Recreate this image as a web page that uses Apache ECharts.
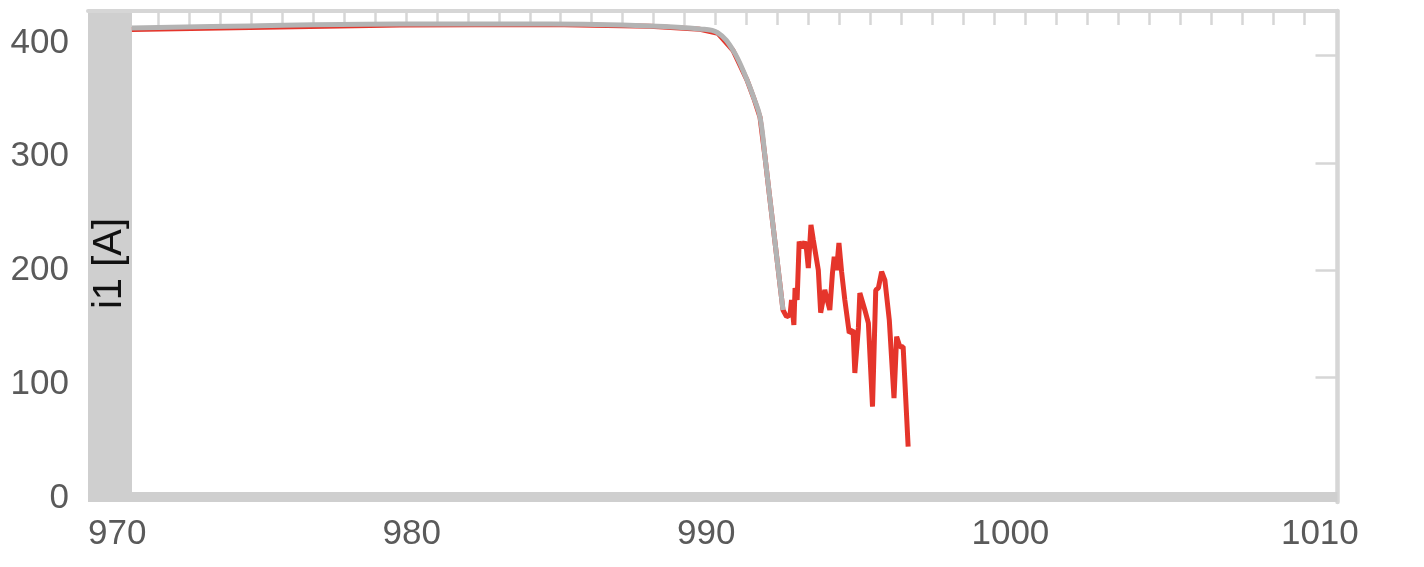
<!DOCTYPE html>
<html>
<head>
<meta charset="utf-8">
<script src="https://cdn.jsdelivr.net/npm/echarts@6/dist/echarts.min.js"></script>
<style>
html,body{margin:0;padding:0;background:#fff;}
#chart{width:1424px;height:567px;}
</style>
</head>
<body>
<div id="chart"></div>
<script>
// x ticks / labels
const xTickLabels = [970, 980, 990, 1000, 1010];
const yTickLabels = [0, 100, 200, 300, 400];
const topTicks = [0,1,2,3,4,5,6,7,8,9,10,11,12,13,14,15,16,17,18,19,20,21,22,23,24,25,26,27,28,29,30,31,32,33,34,35,36,37];
const rightTicks = [1, 2, 3, 4];
const yAxisName = 'i1 [A]';

// gray (smooth) series
const grayX = [971.49, 975.5, 980.59, 985.69, 989.08, 990.78, 991.39, 991.90, 992.38, 992.61, 992.82, 992.99, 993.16, 993.60];
const grayY = [413.2, 415.0, 416.7, 416.7, 415.0, 412.3, 408.8, 393.8, 367.5, 351.6, 334.9, 299.8, 262.0, 165.3];

// red series (continues after gray ends)
const redX = [971.49, 975.5, 980.59, 985.69, 989.08, 990.78, 991.39, 991.90, 992.38, 992.61, 992.82, 992.99, 993.16, 993.60,
  993.72, 993.84, 993.89, 993.97, 994.01, 994.08, 994.15, 994.23, 994.34, 994.40, 994.46, 994.55, 994.63, 994.80, 994.88,
  995.02, 995.10, 995.19, 995.28, 995.34, 995.42, 995.50, 995.59, 995.70, 995.85, 995.98, 996.04, 996.16, 996.21, 996.38,
  996.50, 996.64, 996.75, 996.84, 996.95, 997.06, 997.21, 997.37, 997.46, 997.57, 997.68, 997.85];
const redY = [411.8, 413.6, 415.8, 416.2, 414.6, 412.0, 408.5, 393.6, 367.3, 351.4, 334.7, 299.6, 261.8, 165.3,
  159.4, 160.9, 174.1, 152.1, 184.6, 174.1, 225.3, 219.8, 225.3, 218.0, 202.2, 240.0, 226.8, 200.4, 162.9,
  182.9, 174.1, 165.3, 197.8, 212.1, 200.4, 224.2, 198.9, 174.1, 145.1, 147.7, 109.9, 149.5, 180.2, 165.3,
  153.8, 80.3, 182.9, 184.6, 198.9, 191.6, 156.5, 87.9, 141.8, 133.0, 133.0, 45.1];

const grayData = grayX.map((x, i) => [x, grayY[i]]);
const redData = redX.map((x, i) => [x, redY[i]]);

const chart = echarts.init(document.getElementById('chart'), null, {renderer: 'canvas'});
const FONT = 'Liberation Sans, Arial, Helvetica, sans-serif';
const BAND = '#cfcfcf';
const FRAME = '#d6d6d6';

chart.setOption({
  animation: false,
  backgroundColor: '#ffffff',
  grid: {left: 88, right: 86.5, top: 11, bottom: 65, containLabel: false, outerBoundsMode: 'none'},
  xAxis: [
    {
      type: 'value', position: 'bottom', min: 970, max: 1012.43, offset: -5,
      axisLine: {show: true, onZero: false, lineStyle: {color: BAND, width: 10, cap: 'butt'}},
      axisTick: {show: false},
      splitLine: {show: false},
      axisLabel: {
        show: true, customValues: xTickLabels, align: 'left', margin: 20,
        color: '#5a5a5a', fontFamily: FONT, fontSize: 35,
        formatter: v => (v === 1010 ? '{p|' + v + '}' : String(v)),
        rich: {p: {padding: [0, 0, 0, 15], color: '#5a5a5a', fontFamily: FONT, fontSize: 35}}
      }
    },
    {
      type: 'value', position: 'top', min: -2.27, max: 38.09,
      axisLine: {show: true, onZero: false, lineStyle: {color: FRAME, width: 4}},
      axisTick: {show: true, inside: true, length: 14, customValues: topTicks, lineStyle: {color: FRAME, width: 2.5}},
      axisLabel: {show: false},
      splitLine: {show: false}
    }
  ],
  yAxis: [
    {
      type: 'value', position: 'left', min: -3.5, max: 428.1, offset: -22,
      axisLine: {show: true, onZero: false, lineStyle: {color: BAND, width: 44, cap: 'butt'}},
      axisTick: {show: false},
      splitLine: {show: false},
      axisLabel: {show: true, customValues: yTickLabels, margin: 41, color: '#5a5a5a', fontFamily: FONT, fontSize: 35}
    },
    {
      type: 'value', position: 'right', min: -0.163, max: 4.417,
      axisLine: {show: true, onZero: false, lineStyle: {color: FRAME, width: 4.5}},
      axisTick: {show: true, inside: true, length: 22, customValues: rightTicks, lineStyle: {color: FRAME, width: 2.5}},
      axisLabel: {show: false},
      splitLine: {show: false}
    },
    {
      type: 'value', position: 'left', min: -3.5, max: 428.1, offset: -22, z: 10,
      axisLine: {show: false, onZero: false},
      axisTick: {show: false},
      axisLabel: {show: false},
      splitLine: {show: false},
      name: yAxisName, nameLocation: 'middle', nameRotate: 90, nameGap: 0, nameMoveOverlap: false,
      nameTextStyle: {color: '#111111', fontFamily: FONT, fontSize: 40, verticalAlign: 'middle', align: 'center', padding: [0, 14, 0, 0]}
    }
  ],
  series: [
    {
      type: 'line', xAxisIndex: 0, yAxisIndex: 0, data: redData, showSymbol: false,
      lineStyle: {color: '#e5352b', width: 5}, z: 2
    },
    {
      type: 'line', xAxisIndex: 0, yAxisIndex: 0, data: grayData, showSymbol: false, smooth: 0.4,
      lineStyle: {color: '#b3b3b3', width: 5}, z: 3
    }
  ]
});
</script>
</body>
</html>
